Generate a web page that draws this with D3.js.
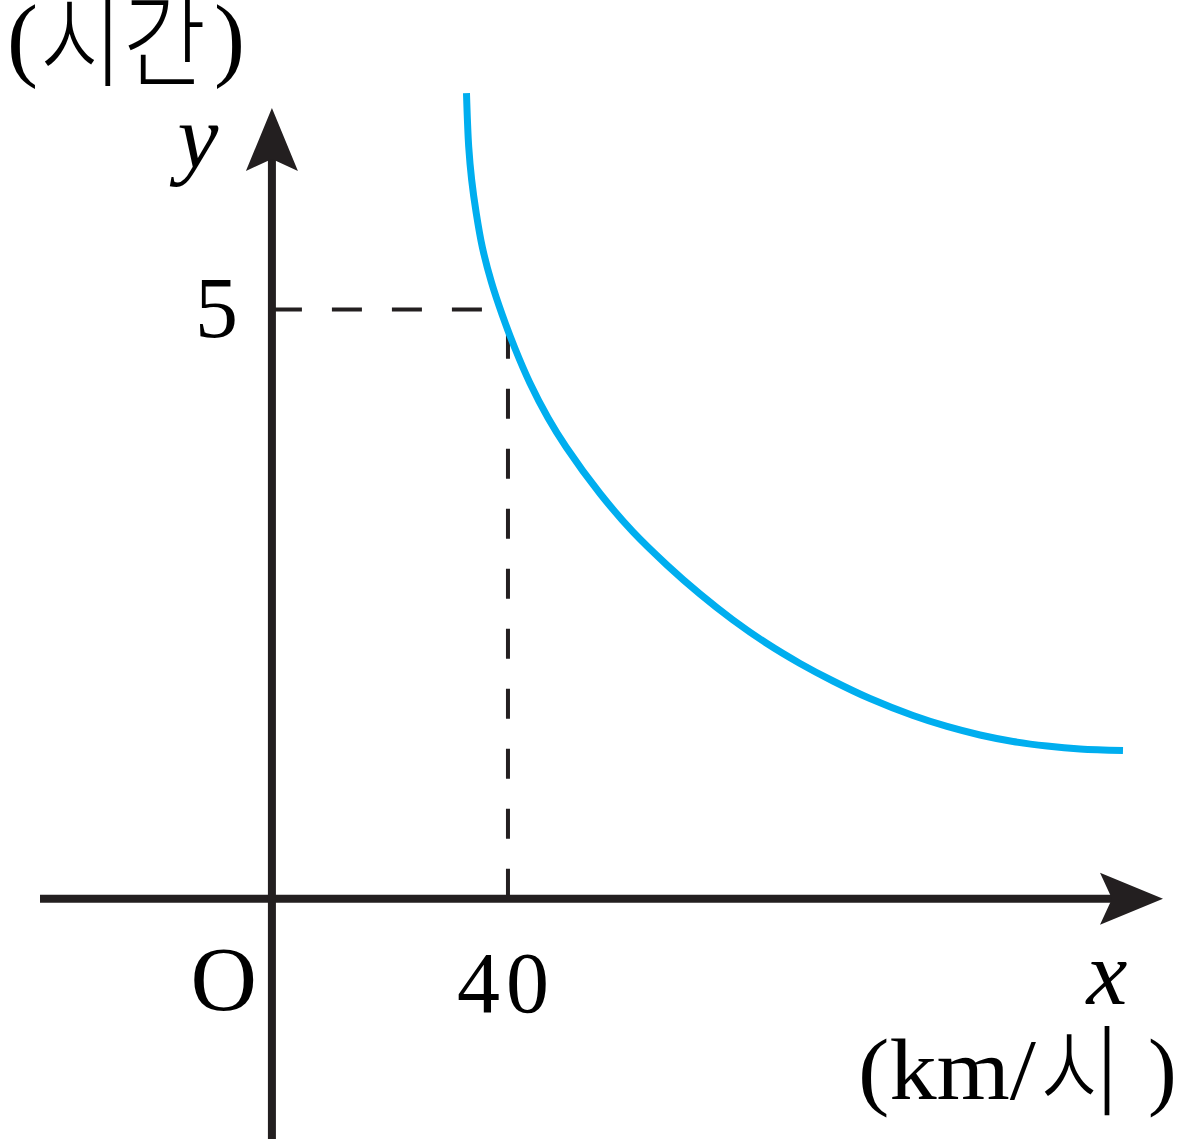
<!DOCTYPE html>
<html>
<head>
<meta charset="utf-8">
<script src="https://cdn.jsdelivr.net/npm/d3@7"></script>
<style>
  html, body { margin: 0; padding: 0; background: #ffffff; }
  svg { display: block; }
</style>
</head>
<body>
<svg id="chart" width="1190" height="1139"></svg>
<script>
// ---- data ----
const curveX = [32.97, 33.35, 33.85, 34.62, 35.65, 37.19, 39.04, 41.16, 43.72, 46.80, 49.85, 55.60, 61.19, 66.95, 72.54, 78.13, 83.89, 89.49, 95.08, 101.35, 108.64, 114.40, 119.99, 125.58, 131.34, 136.94, 144.22];
const curveY = [6.837, 6.379, 6.099, 5.819, 5.530, 5.233, 4.953, 4.673, 4.376, 4.079, 3.833, 3.438, 3.112, 2.831, 2.585, 2.365, 2.165, 1.996, 1.847, 1.698, 1.554, 1.461, 1.389, 1.334, 1.295, 1.270, 1.257];
const xTickValues = [40];
const xTickLabels = ["40"];
const yTickValues = [5];
const yTickLabels = ["5"];
const xDomain = [-39.3, 151];
const yDomain = [-2.04, 6.71];
const xAxisName = "x";
const yAxisName = "y";
const xUnit = "(km/시)";
const yUnit = "(시간)";
const originLabel = "O";

// ---- drawing ----
const svg = d3.select("#chart");
const ink = "#231f20";
const blue = "#00aeef";
const serif = "'Liberation Serif', serif";
const cjk = "'Noto Sans CJK KR', sans-serif";

const x = d3.scaleLinear().domain(xDomain).range([40, 1163]);
const y = d3.scaleLinear().domain(yDomain).range([1139, 108]);

const x0 = x(0), y0 = y(0);
const arrowLen = 63, arrowHalf = 26, notch = 12;

// dashed guides
xTickValues.forEach(v => {
  svg.append("line")
    .attr("x1", x(v)).attr("x2", x(v))
    .attr("y1", y0).attr("y2", y(yTickValues[0]))
    .attr("stroke", ink).attr("stroke-width", 4)
    .attr("stroke-dasharray", "30,30");
});
yTickValues.forEach(v => {
  svg.append("line")
    .attr("x1", x0).attr("x2", x(xTickValues[0]))
    .attr("y1", y(v)).attr("y2", y(v))
    .attr("stroke", ink).attr("stroke-width", 4)
    .attr("stroke-dasharray", "30,30");
});

// axes lines
const xTip = x(xDomain[1]);
const yTip = y(yDomain[1]);
svg.append("line")
  .attr("x1", x(xDomain[0])).attr("x2", xTip - arrowLen + notch + 2)
  .attr("y1", y0).attr("y2", y0)
  .attr("stroke", ink).attr("stroke-width", 8);
svg.append("line")
  .attr("x1", x0).attr("x2", x0)
  .attr("y1", y(yDomain[0])).attr("y2", yTip + arrowLen - notch - 2)
  .attr("stroke", ink).attr("stroke-width", 8);

// arrowheads
svg.append("path")
  .attr("d", `M${xTip},${y0} L${xTip - arrowLen},${y0 - arrowHalf} L${xTip - arrowLen + notch},${y0} L${xTip - arrowLen},${y0 + arrowHalf} Z`)
  .attr("fill", ink);
svg.append("path")
  .attr("d", `M${x0},${yTip} L${x0 - arrowHalf},${yTip + arrowLen} L${x0},${yTip + arrowLen - notch} L${x0 + arrowHalf},${yTip + arrowLen} Z`)
  .attr("fill", ink);

// curve
const pts = curveX.map((d, i) => [d, curveY[i]]);
const line = d3.line()
  .x(d => x(d[0]))
  .y(d => y(d[1]))
  .curve(d3.curveCatmullRom.alpha(0.5));
svg.append("path")
  .attr("d", line(pts))
  .attr("fill", "none")
  .attr("stroke", blue)
  .attr("stroke-width", 7)
  .attr("stroke-linecap", "butt");

// tick labels
const fs = 86;
xTickValues.forEach((v, i) => {
  svg.append("text")
    .attr("x", x(v) - 2).attr("y", y0 + 113)
    .attr("text-anchor", "middle")
    .attr("font-family", serif).attr("font-size", fs)
    .attr("letter-spacing", 6)
    .attr("fill", "#000").text(xTickLabels[i]);
});
yTickValues.forEach((v, i) => {
  svg.append("text")
    .attr("x", x0 - 34).attr("y", y(v) + 28)
    .attr("text-anchor", "end")
    .attr("font-family", serif).attr("font-size", fs)
    .attr("fill", "#000").text(yTickLabels[i]);
});
svg.append("text")
  .attr("x", x0 - 15).attr("y", y0 + 111)
  .attr("text-anchor", "end")
  .attr("font-family", serif).attr("font-size", 92)
  .attr("fill", "#000").text(originLabel);

// axis names
svg.append("text")
  .attr("x", 1107).attr("y", 1004)
  .attr("text-anchor", "middle")
  .attr("font-family", serif).attr("font-style", "italic").attr("font-size", 92)
  .attr("fill", "#000").text(xAxisName);
svg.append("text")
  .attr("x", 198).attr("y", 168)
  .attr("text-anchor", "middle")
  .attr("font-family", serif).attr("font-style", "italic").attr("font-size", 92)
  .attr("fill", "#000").text(yAxisName);

// unit labels: Latin parts in serif, Hangul in CJK font
function splitUnit(s) {
  const m = s.match(/^(\(.*?)([\u3131-\uD79D]+)(\))$/);
  return m ? [m[1], m[2], m[3]] : [s, "", ""];
}

// (시간)
{
  const [a, b, c] = splitUnit(yUnit);
  svg.append("text").attr("x", 7).attr("y", 69)
    .attr("font-family", serif).attr("font-size", 93).attr("fill", "#000").text(a);
  svg.append("text").attr("x", 40).attr("y", 79)
    .attr("font-family", cjk).attr("font-size", 104).attr("font-weight", 300)
    .attr("textLength", 166).attr("lengthAdjust", "spacingAndGlyphs")
    .attr("fill", "#000").text(b);
  svg.append("text").attr("x", 214).attr("y", 69)
    .attr("font-family", serif).attr("font-size", 93).attr("fill", "#000").text(c);
}

// (km/시)
{
  const [a, b, c] = splitUnit(xUnit);
  svg.append("text").attr("x", 858).attr("y", 1099)
    .attr("font-family", serif).attr("font-size", 86)
    .attr("textLength", 178).attr("lengthAdjust", "spacingAndGlyphs")
    .attr("fill", "#000").text(a);
  svg.append("text").attr("x", 1040).attr("y", 1108)
    .attr("font-family", cjk).attr("font-size", 100).attr("font-weight", 300)
    .attr("textLength", 82).attr("lengthAdjust", "spacingAndGlyphs")
    .attr("fill", "#000").text(b);
  svg.append("text").attr("x", 1148).attr("y", 1099)
    .attr("font-family", serif).attr("font-size", 86).attr("fill", "#000").text(c);
}
</script>
</body>
</html>
